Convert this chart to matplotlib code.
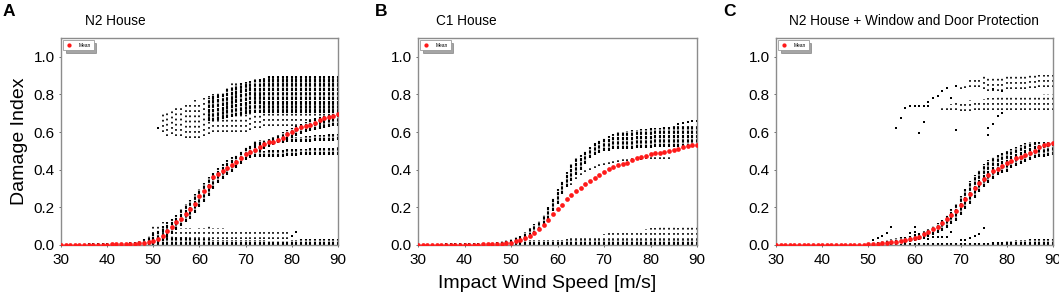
import numpy as np
import matplotlib
matplotlib.use("Agg")
import matplotlib.pyplot as plt

plt.rcParams['font.family'] = ['Liberation Sans', 'DejaVu Sans']

# ---------------- data ----------------
speeds = list(range(30, 91))
x_ticks = [30, 40, 50, 60, 70, 80, 90]
y_ticks = [0.0, 0.2, 0.4, 0.6, 0.8, 1.0]
panel_letters = ["A", "B", "C"]
panel_titles = ["N2 House", "C1 House", "N2 House + Window and Door Protection"]
x_label = "Impact Wind Speed [m/s]"
y_label = "Damage Index"
legend_label = "Mean"

# Panel A -------------------------------------------------------------
A_mean = [0, 0, 0, 0, 0, 0, 0, 0.001, 0.001, 0.002,
          0.002, 0.003, 0.003, 0.004, 0.005, 0.006, 0.007, 0.009, 0.012, 0.016,
          0.022, 0.03, 0.05, 0.072, 0.095, 0.12, 0.14, 0.165, 0.19, 0.22,
          0.258, 0.285, 0.315, 0.36, 0.375, 0.395, 0.41, 0.425, 0.44, 0.46,
          0.485, 0.495, 0.505, 0.52, 0.535, 0.545, 0.55, 0.558, 0.57, 0.59,
          0.60, 0.615, 0.625, 0.632, 0.64, 0.65, 0.662, 0.675, 0.68, 0.688, 0.694]
# dense columns (start speed, low, high)
A_floor_x0 = 36
A_floor_lo = [0] * 55
A_floor_hi = [0.008, 0.009, 0.01, 0.01, 0.011, 0.011, 0.012, 0.012, 0.013, 0.014,
              0.016, 0.02, 0.025, 0.03, 0.04, 0.045, 0.05, 0.05, 0.05, 0.045,
              0.04, 0.04, 0.035, 0.03, 0.03, 0.03, 0.03, 0.025, 0.025, 0.025,
              0.025, 0.025, 0.025, 0.025, 0.025, 0.025, 0.025, 0.025, 0.025, 0.02,
              0.02, 0.02, 0.02, 0.02, 0.025, 0.028, 0.03, 0.03, 0.03, 0.03,
              0.03, 0.03, 0.03, 0.03, 0.03]
A_rise_x0 = 46
A_rise_lo = [0.0, 0.0, 0.0, 0.0, 0.0, 0.01, 0.02, 0.04, 0.06, 0.08,
             0.10, 0.12, 0.14, 0.17, 0.2, 0.23, 0.26, 0.3, 0.33, 0.35,
             0.37, 0.39, 0.41, 0.43, 0.45, 0.46, 0.47]
A_rise_hi = [0.015, 0.02, 0.03, 0.05, 0.07, 0.08, 0.1, 0.12, 0.14, 0.16,
             0.19, 0.22, 0.24, 0.27, 0.3, 0.33, 0.36, 0.38, 0.41, 0.43,
             0.45, 0.47, 0.48, 0.5, 0.52, 0.53, 0.54]
A_lowflat_x0 = 73
A_lowflat_lo = [0.465, 0.467, 0.468, 0.47, 0.47, 0.47, 0.472, 0.474, 0.475, 0.476,
                0.477, 0.478, 0.479, 0.48, 0.48, 0.48, 0.48, 0.48]
A_lowflat_hi = [0.5, 0.502, 0.503, 0.505, 0.506, 0.507, 0.508, 0.509, 0.51, 0.511,
                0.512, 0.513, 0.514, 0.515, 0.516, 0.517, 0.518, 0.52]
A_midflat_x0 = 72
A_midflat_lo = [0.53, 0.532, 0.535, 0.537, 0.54, 0.542, 0.544, 0.545, 0.546, 0.547,
                0.548, 0.549, 0.55, 0.551, 0.552, 0.553, 0.554, 0.555, 0.556]
A_midflat_hi = [0.555, 0.557, 0.56, 0.562, 0.564, 0.566, 0.568, 0.57, 0.572, 0.574,
                0.576, 0.578, 0.58, 0.582, 0.584, 0.586, 0.588, 0.589, 0.59]
A_ridge_x0 = 73
A_ridge_lo = [0.5, 0.51, 0.52, 0.53, 0.54, 0.55, 0.56, 0.57, 0.58, 0.59,
              0.6, 0.605, 0.61, 0.615, 0.62, 0.625, 0.63, 0.635]
A_ridge_hi = [0.54, 0.555, 0.565, 0.575, 0.585, 0.6, 0.61, 0.62, 0.635, 0.645,
              0.655, 0.665, 0.675, 0.685, 0.69, 0.695, 0.7, 0.705]
A_updense_x0 = 62
A_updense_lo = [0.66, 0.66, 0.665, 0.67, 0.675, 0.68, 0.685, 0.69, 0.695, 0.7,
                0.7, 0.7, 0.7, 0.7, 0.7, 0.7, 0.7, 0.7, 0.7, 0.7,
                0.7, 0.7, 0.7, 0.7, 0.7, 0.7, 0.7, 0.7, 0.7]
A_updense_hi = [0.78, 0.79, 0.8, 0.81, 0.83, 0.84, 0.85, 0.86, 0.865, 0.87,
                0.875, 0.88, 0.89, 0.9, 0.9, 0.9, 0.9, 0.9, 0.9, 0.9,
                0.9, 0.9, 0.9, 0.9, 0.9, 0.9, 0.9, 0.9, 0.9]
# sparse columns (start speed, low, high)
A_upsparse_x0 = 52
A_upsparse_lo = [0.6, 0.58, 0.59, 0.58, 0.58, 0.57, 0.57, 0.57, 0.57, 0.58,
                 0.59, 0.6, 0.6, 0.6, 0.6, 0.6, 0.6, 0.6, 0.6, 0.61,
                 0.62, 0.62, 0.63, 0.63, 0.63, 0.63, 0.63, 0.63, 0.63, 0.63,
                 0.63, 0.63, 0.63, 0.63, 0.63, 0.63, 0.63, 0.63, 0.63]
A_upsparse_hi = [0.7, 0.72, 0.73, 0.73, 0.74, 0.75, 0.76, 0.77, 0.76, 0.78,
                 0.79, 0.8, 0.81, 0.82, 0.84, 0.86, 0.86, 0.86, 0.87, 0.87,
                 0.88, 0.88, 0.89, 0.9, 0.9, 0.9, 0.9, 0.9, 0.9, 0.9,
                 0.9, 0.9, 0.9, 0.9, 0.9, 0.9, 0.9, 0.9, 0.9]
A_lowsparse_x0 = 50
A_lowsparse_lo = [0.03] * 30
A_lowsparse_hi = [0.1, 0.1, 0.12, 0.12, 0.1, 0.1, 0.09, 0.09, 0.09, 0.08,
                  0.09, 0.09, 0.1, 0.09, 0.09, 0.09, 0.08, 0.08, 0.08, 0.08,
                  0.08, 0.08, 0.08, 0.08, 0.08, 0.08, 0.08, 0.08, 0.08, 0.07]
A_pts_x = [51, 80, 81]
A_pts_y = [0.62, 0.05, 0.07]

# Panel B -------------------------------------------------------------
B_mean = [0, 0, 0, 0, 0, 0, 0, 0, 0.001, 0.001,
          0.001, 0.002, 0.002, 0.002, 0.003, 0.003, 0.004, 0.005, 0.006, 0.008,
          0.012, 0.02, 0.027, 0.036, 0.05, 0.065, 0.083, 0.105, 0.135, 0.165,
          0.19, 0.215, 0.243, 0.267, 0.287, 0.305, 0.325, 0.34, 0.355, 0.372,
          0.39, 0.405, 0.417, 0.424, 0.43, 0.438, 0.45, 0.46, 0.466, 0.474,
          0.484, 0.49, 0.489, 0.492, 0.498, 0.503, 0.51, 0.522, 0.528, 0.532, 0.534]
B_floor_x0 = 36
B_floor_lo = [0] * 55
B_floor_hi = [0.008, 0.008, 0.009, 0.009, 0.01, 0.01, 0.01, 0.011, 0.011, 0.012,
              0.013, 0.015, 0.017, 0.019, 0.02, 0.022, 0.024, 0.025, 0.026, 0.027,
              0.028, 0.028, 0.028, 0.028, 0.028, 0.028, 0.028, 0.028, 0.028, 0.028,
              0.028, 0.028, 0.028, 0.028, 0.028, 0.028, 0.028, 0.028, 0.028, 0.028,
              0.028, 0.028, 0.028, 0.028, 0.028, 0.028, 0.028, 0.028, 0.028, 0.028,
              0.028, 0.028, 0.028, 0.028, 0.028]
B_rise_x0 = 44
B_rise_lo = [0.0, 0.0, 0.0, 0.0, 0.0, 0.005, 0.01, 0.02, 0.03, 0.04,
             0.05, 0.06, 0.08, 0.11, 0.14, 0.18, 0.22, 0.27, 0.31, 0.34,
             0.37, 0.4, 0.43, 0.46, 0.48, 0.49, 0.5, 0.5, 0.51, 0.51,
             0.51, 0.51, 0.51, 0.515, 0.515, 0.515, 0.515, 0.52, 0.52, 0.52,
             0.52, 0.52, 0.52, 0.52, 0.52, 0.52, 0.52]
B_rise_hi = [0.008, 0.01, 0.012, 0.015, 0.02, 0.025, 0.03, 0.04, 0.05, 0.07,
             0.09, 0.11, 0.13, 0.16, 0.2, 0.25, 0.3, 0.34, 0.39, 0.43,
             0.46, 0.48, 0.5, 0.52, 0.54, 0.56, 0.57, 0.58, 0.59, 0.6,
             0.6, 0.605, 0.61, 0.61, 0.615, 0.615, 0.62, 0.62, 0.62, 0.625,
             0.625, 0.63, 0.63, 0.63, 0.63, 0.63, 0.63]
B_low2_x0 = 62
B_low2_lo = [0.025] * 29
B_low2_hi = [0.03, 0.035, 0.038, 0.04, 0.045, 0.05, 0.05, 0.055, 0.06, 0.065,
             0.065, 0.068, 0.07, 0.075, 0.075, 0.078, 0.08, 0.085, 0.09, 0.09,
             0.095, 0.095, 0.095, 0.095, 0.09, 0.095, 0.1, 0.1, 0.1]
B_midline_x0 = 63
B_midline_lo = [0.32, 0.35, 0.37, 0.39, 0.4, 0.41, 0.42, 0.425, 0.43, 0.435,
                0.44, 0.445, 0.448, 0.45, 0.452, 0.454, 0.455, 0.455, 0.455, 0.455,
                0.455, 0.455]
B_midline_hi = [0.345, 0.37, 0.39, 0.41, 0.42, 0.43, 0.44, 0.445, 0.45, 0.455,
                0.46, 0.462, 0.464, 0.466, 0.468, 0.47, 0.47, 0.47, 0.47, 0.47,
                0.47, 0.468]
B_pts_x = [86, 87, 88, 89, 90]
B_pts_y = [0.645, 0.65, 0.655, 0.66, 0.66]

# Panel C -------------------------------------------------------------
C_mean = [0, 0, 0, 0, 0, 0, 0, 0, 0, 0,
          0, 0, 0, 0, 0.001, 0.001, 0.001, 0.001, 0.002, 0.002,
          0.003, 0.004, 0.006, 0.008, 0.011, 0.014, 0.018, 0.022, 0.027, 0.032,
          0.038, 0.045, 0.057, 0.07, 0.084, 0.096, 0.115, 0.137, 0.16, 0.183,
          0.214, 0.244, 0.271, 0.303, 0.328, 0.351, 0.371, 0.392, 0.406, 0.422,
          0.435, 0.447, 0.46, 0.47, 0.48, 0.49, 0.50, 0.522, 0.53, 0.538, 0.544]
C_floor_x0 = 50
C_floor_lo = [0] * 41
C_floor_hi = [0.006, 0.006, 0.006, 0.006, 0.007, 0.007, 0.007, 0.007, 0.008, 0.008,
              0.008, 0.008, 0.008, 0.008, 0.008, 0.008, 0.008, 0.008, 0.008, 0.008,
              0.009, 0.009, 0.01, 0.01, 0.01, 0.01, 0.012, 0.014, 0.016, 0.018,
              0.02, 0.022, 0.024, 0.026, 0.028, 0.03, 0.03, 0.03, 0.03, 0.03, 0.03]
C_rise_x0 = 51
C_rise_lo = [0.0, 0.0, 0.002, 0.004, 0.006, 0.008, 0.01, 0.013, 0.016, 0.02,
             0.025, 0.033, 0.042, 0.052, 0.062, 0.075, 0.09, 0.11, 0.13, 0.16,
             0.19, 0.22, 0.25, 0.28, 0.31, 0.33, 0.35, 0.37, 0.38, 0.39,
             0.41, 0.42, 0.43, 0.44, 0.45, 0.46, 0.465, 0.47, 0.475, 0.48]
C_rise_hi = [0.01, 0.015, 0.02, 0.025, 0.03, 0.035, 0.04, 0.045, 0.05, 0.056,
             0.065, 0.075, 0.087, 0.1, 0.115, 0.135, 0.16, 0.19, 0.22, 0.26,
             0.3, 0.34, 0.37, 0.4, 0.43, 0.45, 0.47, 0.48, 0.49, 0.5,
             0.51, 0.52, 0.53, 0.54, 0.545, 0.55, 0.55, 0.55, 0.55, 0.55]
C_uphi_x0 = 70
C_uphi_lo = [0.83, 0.835, 0.84, 0.84, 0.84, 0.83, 0.82, 0.82, 0.82, 0.82,
             0.83, 0.83, 0.83, 0.83, 0.83, 0.835, 0.835, 0.84, 0.84, 0.84, 0.84]
C_uphi_hi = [0.85, 0.86, 0.875, 0.88, 0.89, 0.9, 0.9, 0.9, 0.9, 0.9,
             0.905, 0.905, 0.905, 0.905, 0.905, 0.905, 0.905, 0.905, 0.905, 0.905, 0.905]
C_uplo_x0 = 66
C_uplo_lo = [0.72, 0.72, 0.72, 0.715, 0.71, 0.71, 0.71, 0.715, 0.72, 0.72,
             0.72, 0.72, 0.72, 0.72, 0.72, 0.72, 0.72, 0.72, 0.72, 0.72,
             0.72, 0.72, 0.72, 0.72, 0.72]
C_uplo_hi = [0.74, 0.745, 0.75, 0.755, 0.76, 0.765, 0.77, 0.77, 0.77, 0.775,
             0.78, 0.78, 0.785, 0.785, 0.785, 0.79, 0.79, 0.79, 0.79, 0.795,
             0.795, 0.795, 0.8, 0.8, 0.8]
C_pts_x = [51, 52, 53, 54, 55, 59, 60, 60, 63, 64, 65, 66, 67, 68, 70, 71, 72, 73, 74, 75,
           56, 57, 58, 59, 60, 61, 62, 63, 61, 62, 63, 64, 65, 66, 67, 68, 69, 69,
           76, 76, 77, 78, 79, 77, 79]
C_pts_y = [0.027, 0.036, 0.048, 0.062, 0.095, 0.062, 0.095, 0.07, 0.03, 0.044, 0.044,
           0.044, 0.044, 0.071, 0.027, 0.027, 0.036, 0.048, 0.06, 0.089,
           0.622, 0.677, 0.727, 0.736, 0.736, 0.736, 0.736, 0.736, 0.594, 0.654,
           0.76, 0.779, 0.793, 0.82, 0.835, 0.78, 0.61, 0.845,
           0.583, 0.623, 0.645, 0.686, 0.70, 0.83, 0.82]

# ---------------- drawing ----------------
W, H = 1059, 302
fig = plt.figure(figsize=(W / 100, H / 100), dpi=100)

axes_px = [(61, 277), (418, 279), (776, 277)]
ax_top, ax_bot = 38, 245

panels = [
    dict(mean=A_mean,
         dense=[(A_floor_x0, A_floor_lo, A_floor_hi), (A_rise_x0, A_rise_lo, A_rise_hi),
                (A_lowflat_x0, A_lowflat_lo, A_lowflat_hi),
                (A_midflat_x0, A_midflat_lo, A_midflat_hi),
                (A_ridge_x0, A_ridge_lo, A_ridge_hi),
                (A_updense_x0, A_updense_lo, A_updense_hi)],
         sparse=[(A_upsparse_x0, A_upsparse_lo, A_upsparse_hi),
                 (A_lowsparse_x0, A_lowsparse_lo, A_lowsparse_hi)],
         pts=(A_pts_x, A_pts_y)),
    dict(mean=B_mean,
         dense=[(B_floor_x0, B_floor_lo, B_floor_hi), (B_rise_x0, B_rise_lo, B_rise_hi)],
         sparse=[(B_low2_x0, B_low2_lo, B_low2_hi),
                 (B_midline_x0, B_midline_lo, B_midline_hi)],
         pts=(B_pts_x, B_pts_y)),
    dict(mean=C_mean,
         dense=[(C_floor_x0, C_floor_lo, C_floor_hi), (C_rise_x0, C_rise_lo, C_rise_hi)],
         sparse=[(C_uphi_x0, C_uphi_lo, C_uphi_hi), (C_uplo_x0, C_uplo_lo, C_uplo_hi)],
         pts=(C_pts_x, C_pts_y)),
]

for i, p in enumerate(panels):
    left, width = axes_px[i]
    ax = fig.add_axes([left / W, 1 - ax_bot / H, width / W, (ax_bot - ax_top) / H])
    for x0, lo, hi in p["dense"]:
        xs = list(range(x0, x0 + len(lo)))
        ax.vlines(xs, lo, hi, colors="black", linewidth=1.5,
                  linestyles=(0, (1.6, 0.5)), zorder=2)
    for x0, lo, hi in p["sparse"]:
        xs = list(range(x0, x0 + len(lo)))
        ax.vlines(xs, lo, hi, colors="black", linewidth=1.25,
                  linestyles=(0, (1, 2.0)), zorder=2)
    px, py = p["pts"]
    ax.scatter(px, py, s=2.2, marker="s", color="black", linewidths=0, zorder=2)
    ax.plot(speeds, p["mean"], linestyle="none", marker="o", markersize=3.4,
            color="#ff1a1a", markeredgewidth=0, label=legend_label, zorder=3)
    ax.set_xlim(30, 90)
    ax.set_ylim(0, 1.1)
    ax.set_xticks(x_ticks)
    ax.set_yticks(y_ticks)
    ax.set_yticklabels([f"{v:.1f}" for v in y_ticks])
    for s in ax.spines.values():
        s.set_color("#8c8c8c")
        s.set_linewidth(1.0)
    ax.tick_params(direction="out", length=1.5, width=0.6, color="#555555",
                   labelsize=11, pad=3)
    ax.tick_params(axis="x", pad=4)
    leg = ax.legend(loc="upper left", fontsize=3.5, frameon=True, shadow=True,
                    fancybox=False, handlelength=1.2, handletextpad=1.5,
                    borderpad=0.5, borderaxespad=0.5, markerscale=0.9)
    leg.get_frame().set_edgecolor("#9a9a9a")
    leg.get_frame().set_linewidth(0.6)
    if i == 0:
        ax.set_ylabel(y_label, fontsize=14, labelpad=4)

letter_px = [(3, 16), (375, 16), (723, 16)]
title_px = [(85, 25), (436, 25), (789, 25)]
for i in range(3):
    fig.text(letter_px[i][0] / W, 1 - letter_px[i][1] / H, panel_letters[i],
             fontsize=12.5, fontweight="bold", ha="left", va="baseline")
    fig.text(title_px[i][0] / W, 1 - title_px[i][1] / H, panel_titles[i],
             fontsize=9.8, ha="left", va="baseline")

fig.text(546.7 / W, 1 - 283 / H, x_label, fontsize=14, ha="center", va="center")

fig.savefig("out.png", dpi=100)
